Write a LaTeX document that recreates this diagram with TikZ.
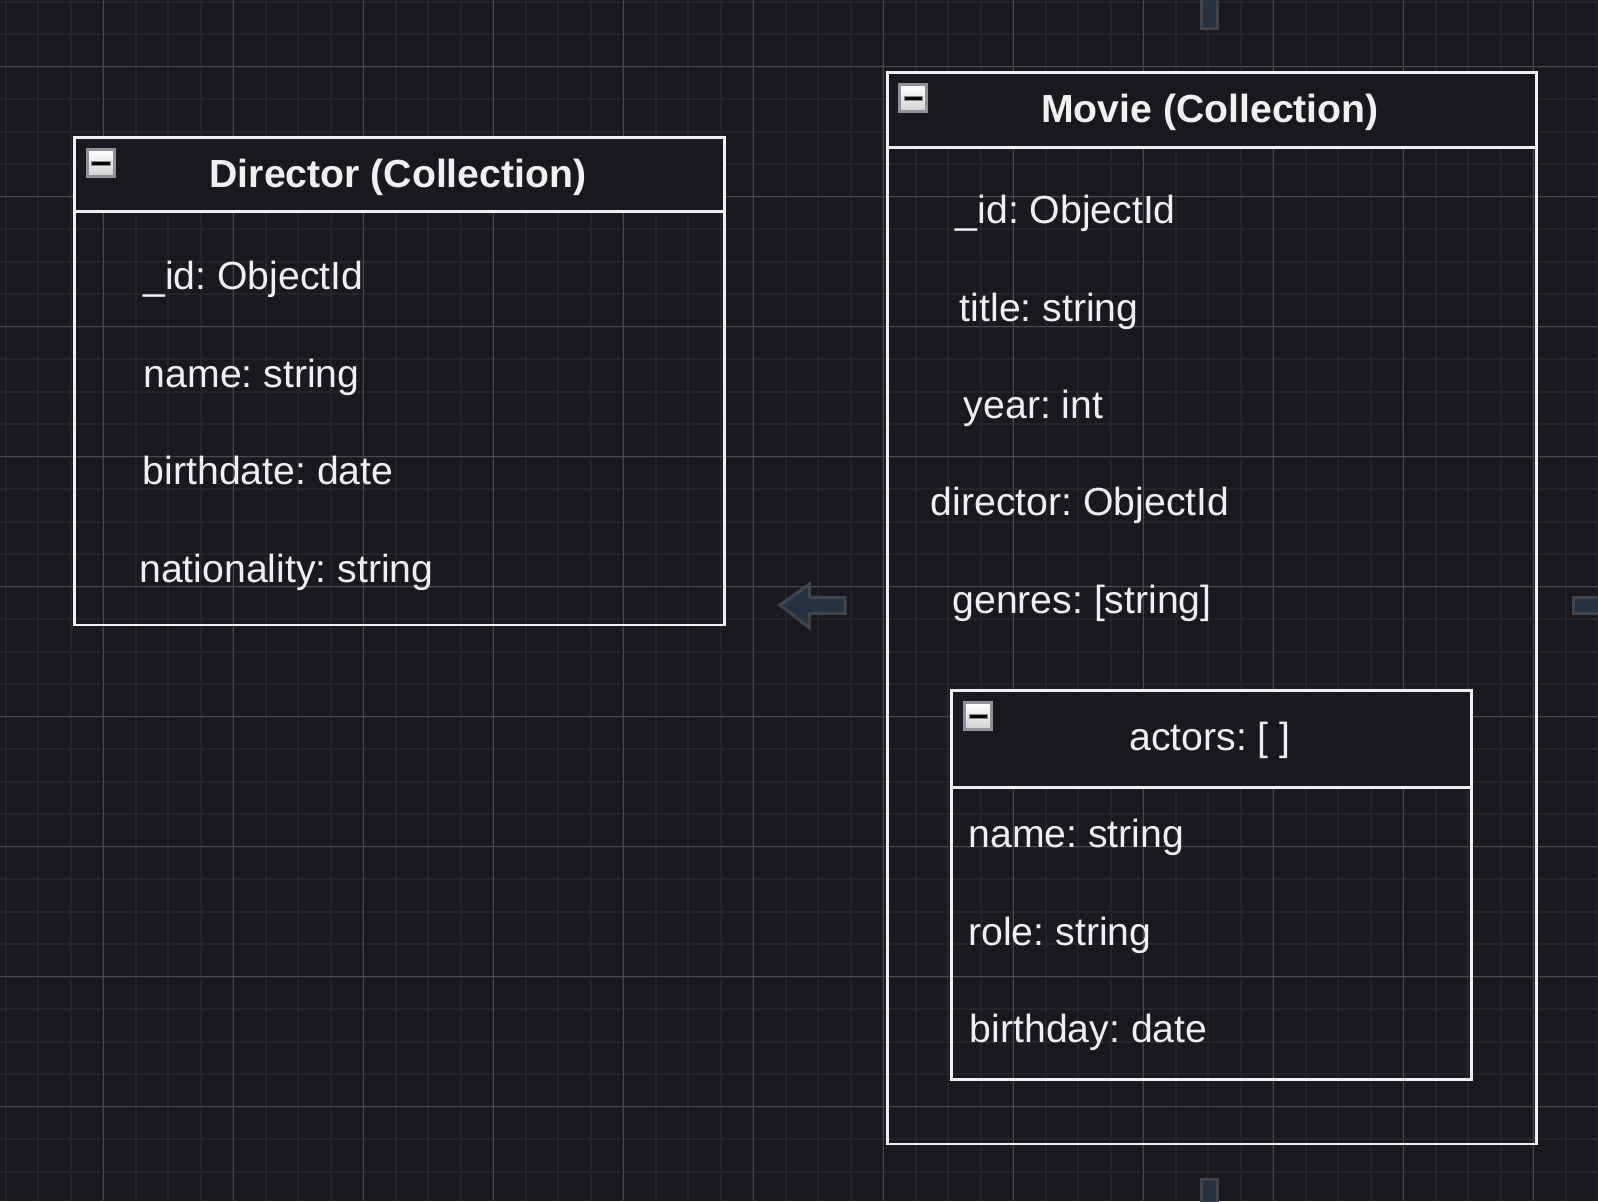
\documentclass[tikz,border=0pt]{standalone}
\usepackage{fontspec}
\setmainfont{Liberation Sans}
\frenchspacing
\definecolor{bg}{RGB}{27,25,32}
\definecolor{minorc}{RGB}{37,36,43}
\definecolor{majorc}{RGB}{72,72,78}
\definecolor{linec}{RGB}{240,240,240}
\definecolor{hfill}{RGB}{40,52,70}
\definecolor{hdraw}{RGB}{66,68,76}
\definecolor{iconborder}{RGB}{140,145,156}
\begin{document}
\begin{tikzpicture}[x=0.5pt,y=-0.5pt,
  minorline/.style={draw=minorc, line width=1pt},
  majorline/.style={draw=majorc, line width=0.55pt},
  box/.style={draw=linec, line width=1.45pt, inner sep=0pt, anchor=north west},
  headbox/.style={box, fill=bg},
  field/.style={anchor=base west, inner sep=0pt, text=linec, font=\fontsize{19.6}{23}\selectfont},
  titletext/.style={anchor=base, inner sep=0pt, text=linec, font=\fontsize{19.6}{23}\selectfont\bfseries},
  subtitletext/.style={anchor=base, inner sep=0pt, text=linec, font=\fontsize{19.6}{23}\selectfont},
  icon/.style={draw=iconborder, line width=1.5pt, minimum size=13.5pt, inner sep=0pt,
    top color=white, bottom color=black!18,
    path picture={\draw[fill=black, draw=black!45, line width=0.4pt]
      ([xshift=-4.6pt,yshift=-1pt]path picture bounding box.center) rectangle
      ([xshift=4.6pt,yshift=1pt]path picture bounding box.center);}},
  handle/.style={fill=hfill, draw=hdraw, line width=1.5pt, fill opacity=0.9}
]
\useasboundingbox (0,0) rectangle (1598,1201);
\fill[bg] (0,0) rectangle (1598,1201);
% grid
\foreach \i in {0,...,49} {\draw[minorline] ({5.8+32.5*\i},0) -- ++(0,1201);}
\foreach \i in {0,...,37} {\draw[minorline] (0,{1.7+32.5*\i}) -- ++(1598,0);}
\foreach \i in {0,...,11} {\draw[majorline] ({103.3+130*\i},0) -- ++(0,1201);}
\foreach \i in {0,...,8} {\draw[majorline] (0,{66.7+130*\i}) -- ++(1598,0);}

% hover handles
\draw[handle] (780,605) -- (809.3,584) -- (809.3,597.3) -- (845,597.3) -- (845,613.3) -- (809.3,613.3) -- (809.3,627.7) -- cycle;
\draw[handle] (1201.7,-5) rectangle (1217.7,28);
\draw[handle] (1201.7,1179.3) rectangle (1217.7,1210);
\draw[handle] (1573.3,597.3) rectangle (1610,613.3);

% Director
\node[box, minimum width=325pt, minimum height=243.75pt] (director) at (72.8,136) {};
\node[headbox, minimum width=325pt, minimum height=37.15pt] (directorhead) at (72.8,136) {};
\node[icon] (diricon) at (100.8,163.3) {};
\node[titletext] (dirtitle) at (398,187.8) {Director (Collection)};
\node[field] (dirid) at (143,289.8) {\_id: ObjectId};
\node[field] (dirname) at (143.5,387.2) {name: string};
\node[field] (dirbirth) at (142.5,484.6) {birthdate: date};
\node[field] (dirnat) at (139,582) {nationality: string};

% Movie
\node[box, minimum width=324.5pt, minimum height=535.75pt] (movie) at (885.6,71) {};
\node[headbox, minimum width=324.5pt, minimum height=37.35pt] (moviehead) at (885.6,71) {};
\node[icon] (movicon) at (913.2,98.3) {};
\node[titletext] (movtitle) at (1210,122.6) {Movie (Collection)};
\node[field] (movid) at (955.3,223.6) {\_id: ObjectId};
\node[field] (movtitlef) at (959.5,321) {title: string};
\node[field] (movyear) at (963.5,418.4) {year: int};
\node[field] (movdir) at (930.5,515.8) {director: ObjectId};
\node[field] (movgenres) at (952,613.2) {genres: [string]};

% Actors
\node[box, minimum width=260.3pt, minimum height=194.6pt] (actors) at (949.8,689) {};
\node[headbox, minimum width=260.3pt, minimum height=48.35pt] (actorshead) at (949.8,689) {};
\node[icon] (acticon) at (978.3,716) {};
\node[subtitletext] (acttitle) at (1210,750.3) {actors: [ ]};
\node[field] (actname) at (968,847.8) {name: string};
\node[field] (actrole) at (968,945.2) {role: string};
\node[field] (actbirth) at (969.5,1042.6) {birthday: date};
\end{tikzpicture}
\end{document}
